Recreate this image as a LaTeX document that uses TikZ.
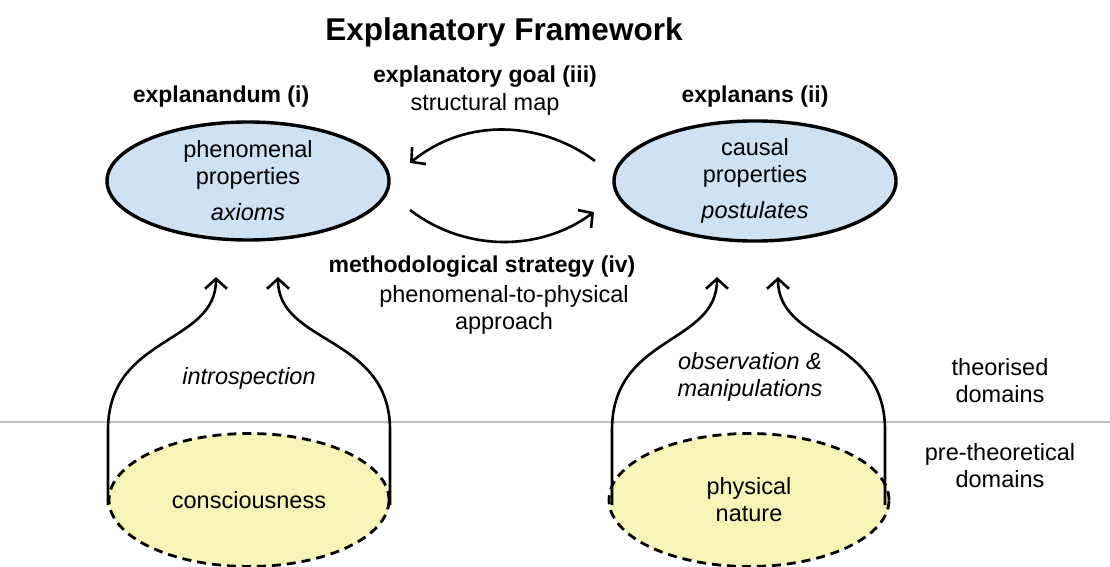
\documentclass[tikz,border=0pt]{standalone}
\usepackage{fontspec}
\setmainfont{Liberation Sans}
\usetikzlibrary{arrows.meta,shapes.geometric}
\definecolor{propblue}{HTML}{CFE2F3}
\definecolor{domyellow}{HTML}{F7F4B8}
\definecolor{rulegray}{HTML}{BDBDBD}
\tikzset{
  body/.style={font=\fontsize{23.5}{27}\selectfont, align=center, inner sep=0pt},
  head/.style={font=\fontsize{23}{27}\selectfont\bfseries, align=center, inner sep=0pt},
  propnode/.style={ellipse, draw=black, line width=3.4pt, fill=propblue,
    minimum width=282pt, minimum height=118pt, align=center,
    font=\fontsize{23.5}{27}\selectfont, inner sep=0pt},
  domnode/.style={ellipse, draw=black, dashed, dash pattern=on 9pt off 6pt,
    line width=2.8pt, fill=domyellow, minimum width=280pt, minimum height=133pt,
    align=center, font=\fontsize{23.5}{27}\selectfont, inner sep=0pt},
  link/.style={line width=2.6pt, -{Straight Barb[length=10pt,width=22pt,line width=2.6pt]}},
}
\begin{document}
\begin{tikzpicture}[x=1pt,y=-1pt]
\useasboundingbox[fill=white] (0,0) rectangle (1110,567);

% boundary between the theorised and pre-theoretical domains
\draw[rulegray, line width=1.5pt] (0,422) -- (1110,422);

% title
\node[font=\fontsize{31.5}{36}\selectfont\bfseries, inner sep=0pt] (title) at (504,32) {Explanatory Framework};

% theorised properties
\node[propnode] (phen) at (248,181) {phenomenal\\properties\\[9pt]\itshape axioms};
\node[propnode] (caus) at (755,181) {causal\\properties\\[9pt]\itshape postulates};
\node[head] (expl1) at (221,97) {explanandum (i)};
\node[head] (expl2) at (755,97) {explanans (ii)};

% pre-theoretical domains
\node[domnode] (cons) at (249,500) {consciousness};
\node[domnode] (phys) at (749,500) {physical\\nature};

% goal and strategy labels
\node[head] (goal) at (485,77) {explanatory goal (iii)};
\node[body] (smap) at (485,104) {structural map};
\node[head] (strat) at (482,267) {methodological strategy (iv)};
\node[body] (appr) at (504,310) {phenomenal-to-physical\\approach};

% arrows between the two property sets
\coordinate (gs) at (595,161);
\coordinate (ge) at (410,163);
\coordinate (ss) at (410,210);
\coordinate (se) at (594,212);
\draw[link] (gs) .. controls (540,120) and (465,118) .. (ge);
\draw[link] (ss) .. controls (465,252) and (540,252) .. (se);

% access routes from the domains up to the properties
\coordinate (c1) at (108,505);
\coordinate (c1t) at (216,277);
\coordinate (c2) at (390,505);
\coordinate (c2t) at (278,277);
\coordinate (p1) at (612,505);
\coordinate (p1t) at (717,277);
\coordinate (p2) at (885,505);
\coordinate (p2t) at (778,277);
\draw[link] (c1) -- (108,430) .. controls (108,335) and (216,345) .. (c1t);
\draw[link] (c2) -- (390,430) .. controls (390,335) and (278,345) .. (c2t);
\draw[link] (p1) -- (612,430) .. controls (612,335) and (717,345) .. (p1t);
\draw[link] (p2) -- (885,430) .. controls (885,335) and (778,345) .. (p2t);

\node[body, font=\fontsize{23.5}{27}\selectfont\itshape] (intro) at (249,378) {introspection};
\node[body, font=\fontsize{23.5}{27}\selectfont\itshape] (obs) at (750,377) {observation \&\\manipulations};

% domain labels on the right
\node[body] (theo) at (1000,381) {theorised\\domains};
\node[body] (pret) at (1000,466) {pre-theoretical\\domains};
\end{tikzpicture}
\end{document}
